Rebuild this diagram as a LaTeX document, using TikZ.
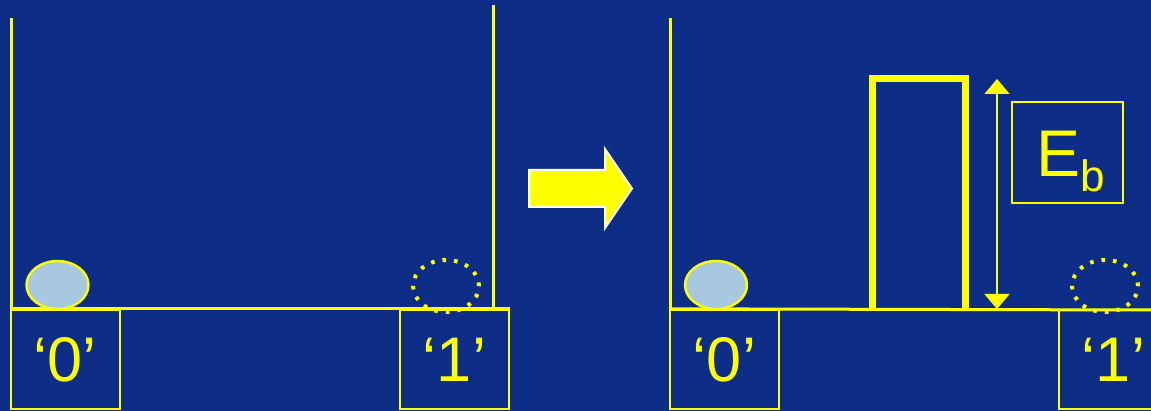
\documentclass[tikz,border=0pt]{standalone}
\usepackage{fontspec}
\setmainfont{Liberation Sans}
\usetikzlibrary{arrows.meta}
\definecolor{bg}{RGB}{13,45,134}
\definecolor{yel}{RGB}{255,255,0}
\definecolor{ball}{RGB}{168,200,224}
\begin{document}
\begin{tikzpicture}[x=0.5pt,y=-0.5pt,
  wall/.style={draw=yel,line width=1.5pt},
  cell/.style={draw=yel,line width=1.2pt,minimum width=54.5pt,minimum height=49.5pt,inner sep=0pt,text=yel,font=\fontsize{31.5}{31.5}\selectfont},
  fullball/.style={draw=yel,line width=1.2pt,fill=ball},
  emptyball/.style={draw=yel,line width=2pt,dash pattern=on 1.8pt off 4pt},
  barrier/.style={draw=yel,line width=3.5pt,miter limit=10},
  dim/.style={draw=yel,line width=0.8pt,{Triangle[width=12.5pt,length=7.5pt]}-{Triangle[width=12.5pt,length=7.5pt]}},
  ebox/.style={draw=yel,line width=1.2pt,minimum width=55.5pt,minimum height=50.5pt,inner sep=0pt},
  elabel/.style={text=yel,inner sep=0pt,font=\fontsize{33}{33}\selectfont}
]
\fill[bg] (0,0) rectangle (1151,411);
\useasboundingbox (0,0) rectangle (1151,411);

% left panel
\coordinate (LwallT) at (11,18);
\coordinate (LwallB) at (11,310);
\coordinate (RwallT) at (493,5);
\coordinate (RwallB) at (493,310);
\draw[wall] (LwallT) -- (LwallB);
\draw[wall] (RwallT) -- (RwallB);
\node[cell] (a0) at (65.5,359.5) {‘0’};
\node[cell] (a1) at (454.5,359.5) {‘1’};
\draw[wall] (a0.north west) -- (a1.north east);
\draw[fullball] (57.5,285) ellipse [x radius=15.5pt, y radius=12pt];
\draw[emptyball] (446,286) ellipse [x radius=16.5pt, y radius=13pt];

% transition arrow
\fill[yel,draw=white,line width=1pt] (529,170) -- (605,170) -- (605,149) -- (632,188.5) -- (605,228) -- (605,207) -- (529,207) -- cycle;

% right panel
\coordinate (L2wallT) at (670,18);
\coordinate (L2wallB) at (670,310);
\draw[wall] (L2wallT) -- (L2wallB);
\node[cell] (b0) at (724.5,359.5) {‘0’};
\node[cell] (b1) at (1113.5,359.5) {‘1’};
\draw[wall] (b0.north west) -- (1151,310);
\draw[fullball] (716,285) ellipse [x radius=15.5pt, y radius=12pt];
\draw[emptyball] (1105,286) ellipse [x radius=16.5pt, y radius=13pt];

\draw[barrier] (872.5,310) -- (872.5,79) -- (965.5,79) -- (965.5,310);

\coordinate (dimT) at (997,79);
\coordinate (dimB) at (997,309);
\draw[dim] (dimT) -- (dimB);

\node[ebox] (eb) at (1067.5,152.5) {};
\node[elabel,anchor=base west] (ebt) at (1036,177) {E\raisebox{-7.5pt}{\fontsize{22}{22}\selectfont b}};
\end{tikzpicture}
\end{document}
